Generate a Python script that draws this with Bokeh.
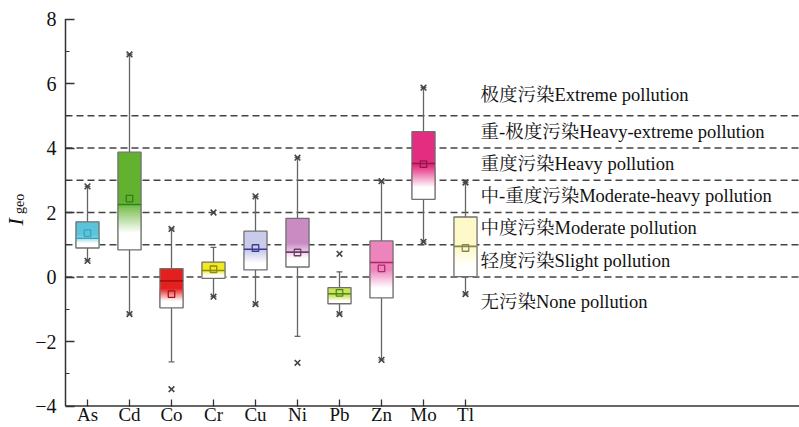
import numpy as np
from bokeh.plotting import figure
from bokeh.models import Range1d, FixedTicker, Label
from bokeh.core.properties import value
from bokeh.embed import file_html
from bokeh.resources import INLINE

# ---------------- data ----------------
elements = ["As", "Cd", "Co", "Cr", "Cu", "Ni", "Pb", "Zn", "Mo", "Tl"]
q1 = [0.90, 0.84, -0.96, -0.04, 0.22, 0.31, -0.83, -0.65, 2.41, 0.01]
median = [1.20, 2.25, -0.12, 0.20, 0.86, 0.77, -0.52, 0.45, 3.52, 0.95]
q3 = [1.71, 3.87, 0.26, 0.46, 1.42, 1.82, -0.33, 1.12, 4.51, 1.86]
mean = [1.36, 2.43, -0.53, 0.24, 0.90, 0.76, -0.49, 0.27, 3.50, 0.90]
whisker_low = [0.50, -1.15, -2.63, -0.61, -0.84, -1.84, -1.15, -2.57, 1.09, -0.53]
whisker_high = [2.81, 6.90, 1.49, 0.92, 2.50, 3.70, 0.16, 2.97, 5.87, 2.93]
min_mark = [0.50, -1.15, -3.48, -0.61, -0.84, -2.66, -1.15, -2.57, 1.09, -0.53]
max_mark = [2.81, 6.90, 1.49, 2.00, 2.50, 3.70, 0.72, 2.97, 5.87, 2.93]

fill_colors = ["#5BC4DB", "#62B22F", "#E4201F", "#F2EA1C", "#CACBEA",
               "#C98BC2", "#CDE35A", "#EE84BC", "#E42C80", "#FEF9C8"]
median_colors = ["#3AA4BC", "#2F7F1A", "#A81015", "#8C8A10", "#3A3C90",
                 "#6E3C68", "#4E8A24", "#B02868", "#901848", "#8A8550"]

class_levels = [0, 1, 2, 3, 4, 5]
class_labels = ["极度污染Extreme pollution", "重-极度污染Heavy-extreme pollution",
                "重度污染Heavy pollution", "中-重度污染Moderate-heavy pollution",
                "中度污染Moderate pollution", "轻度污染Slight pollution",
                "无污染None pollution"]
class_label_y = [5.65, 4.5, 3.49, 2.5, 1.51, 0.49, -0.79]

y_ticks = [-4, -2, 0, 2, 4, 6, 8]
y_minor = [-3, -1, 1, 3, 5, 7]

# ---------------- layout constants ----------------
W, H = 799, 427
PX_X = 42.0
X0_PX, Y8_PX, YM4_PX = 87.0, 18.5, 405.5
PX_Y = (YM4_PX - Y8_PX) / 12.0
AXIS_X_PX = 65.0
x_left = -X0_PX / PX_X
x_right = (W - X0_PX) / PX_X
y_top = 8 + Y8_PX / PX_Y
y_bot = -4 - (H - YM4_PX) / PX_Y
x_axis = x_left + AXIS_X_PX / PX_X
y_min_axis, y_max_axis = -4, 8

SERIF = "'Liberation Serif', 'Noto Serif CJK SC', 'Noto Sans CJK SC'"
p = figure(width=W, height=H, output_backend="svg", toolbar_location=None,
           x_range=Range1d(x_left, x_right), y_range=Range1d(y_bot, y_top),
           min_border_left=0, min_border_right=0, min_border_top=0,
           min_border_bottom=0)
p.outline_line_color = None
p.grid.visible = False
p.background_fill_color = "white"
p.border_fill_color = "white"

xa = p.xaxis[0]
xa.fixed_location = y_min_axis
xa.ticker = FixedTicker(ticks=list(range(len(elements))), minor_ticks=[])
xa.major_label_overrides = {i: e for i, e in enumerate(elements)}
ya = p.yaxis[0]
ya.fixed_location = x_axis
ya.ticker = FixedTicker(ticks=y_ticks, minor_ticks=y_minor)
ya.major_label_overrides = {t: (str(t).replace("-", "\u2212")) for t in y_ticks}
for ax in (xa, ya):
    ax.axis_line_color = None
    ax.major_tick_line_color = "#333333"
    ax.major_tick_line_width = 1.3
    ax.minor_tick_line_color = "#333333"
    ax.major_tick_out = 0
    ax.minor_tick_out = 0
    ax.major_label_text_font = "Liberation Serif"
    ax.major_label_text_color = "#111111"
ya.major_label_text_font_size = "20px"
xa.major_label_text_font_size = "19px"
ya.major_tick_in = 9
ya.minor_tick_in = 4
ya.major_label_standoff = 9
xa.major_tick_in = 7
xa.minor_tick_in = 0
xa.major_label_standoff = -2

# axis lines (only over the plotted extent)
p.segment(x0=[x_axis, x_axis], y0=[y_min_axis, y_min_axis],
          x1=[x_axis, x_right], y1=[y_max_axis, y_min_axis],
          line_color="#333333", line_width=1.5)

# dashed class lines
p.segment(x0=[x_axis] * len(class_levels), y0=class_levels,
          x1=[x_right] * len(class_levels), y1=class_levels,
          line_color="#444444", line_width=1.6, line_dash="7 4", level="underlay")

# class labels
p.text(x=[9.357] * len(class_labels), y=class_label_y, text=class_labels,
       text_font=value(SERIF), text_font_size="18.5px", text_color="#111111",
       text_baseline="middle", text_align="left")

xs = np.arange(len(elements), dtype=float)
bw = 0.55
cap = 0.14
wcol = "#666666"

# whiskers
p.segment(x0=xs, y0=q3, x1=xs, y1=whisker_high, line_color=wcol, line_width=1.3)
p.segment(x0=xs, y0=q1, x1=xs, y1=whisker_low, line_color=wcol, line_width=1.3)
p.segment(x0=xs - cap / 2, y0=whisker_high, x1=xs + cap / 2, y1=whisker_high,
          line_color=wcol, line_width=1.3)
p.segment(x0=xs - cap / 2, y0=whisker_low, x1=xs + cap / 2, y1=whisker_low,
          line_color=wcol, line_width=1.3)

# box fills: solid upper half, fading to white (overlapping layers, no seams)
def hex2rgb(h):
    h = h.lstrip("#")
    return np.array([int(h[i:i + 2], 16) for i in (0, 2, 4)], dtype=float)

N = 30
f1, f2 = 0.5, 0.82
L, R, T, B, C = [], [], [], [], []
white = np.array([255.0, 255.0, 255.0])
for i in range(len(elements)):
    top, bot = q3[i], q1[i]
    h = top - bot
    rgb = hex2rgb(fill_colors[i])
    L.append(xs[i] - bw / 2); R.append(xs[i] + bw / 2); T.append(top); B.append(bot)
    C.append(fill_colors[i])
    for k in range(N + 1):
        a = top - (f1 + (f2 - f1) * k / N) * h
        t = k / N
        c = rgb * (1 - t) + white * t
        L.append(xs[i] - bw / 2); R.append(xs[i] + bw / 2); T.append(a); B.append(bot)
        C.append("#%02X%02X%02X" % tuple(int(round(v)) for v in c))
p.quad(left=L, right=R, top=T, bottom=B, fill_color=C, line_color=None)

# box outlines
p.quad(left=xs - bw / 2, right=xs + bw / 2, top=q3, bottom=q1,
       fill_color=None, line_color="#707070", line_width=1.3)

# medians
p.segment(x0=xs - bw / 2, y0=median, x1=xs + bw / 2, y1=median,
          line_color=median_colors, line_width=1.6)

# means
p.scatter(x=xs, y=mean, marker="square", size=6.5, fill_color=None,
          line_color=median_colors, line_width=1.3)

# min / max markers
p.scatter(x=xs, y=max_mark, marker="x", size=8, line_color="#444444", line_width=1.6)
p.scatter(x=xs, y=min_mark, marker="x", size=8, line_color="#444444", line_width=1.6)

# y-axis title I_geo
p.add_layout(Label(x=-1.71, y=1.71, text="I", angle=np.pi / 2,
                   text_font="Liberation Serif", text_font_style="italic",
                   text_font_size="22px", text_color="#111111",
                   text_align="center", text_baseline="middle"))
p.add_layout(Label(x=-1.61, y=2.27, text="geo", angle=np.pi / 2,
                   text_font="Liberation Serif", text_font_size="14px",
                   text_color="#111111", text_align="center", text_baseline="middle"))

open("out.html", "w").write(file_html(p, INLINE))
